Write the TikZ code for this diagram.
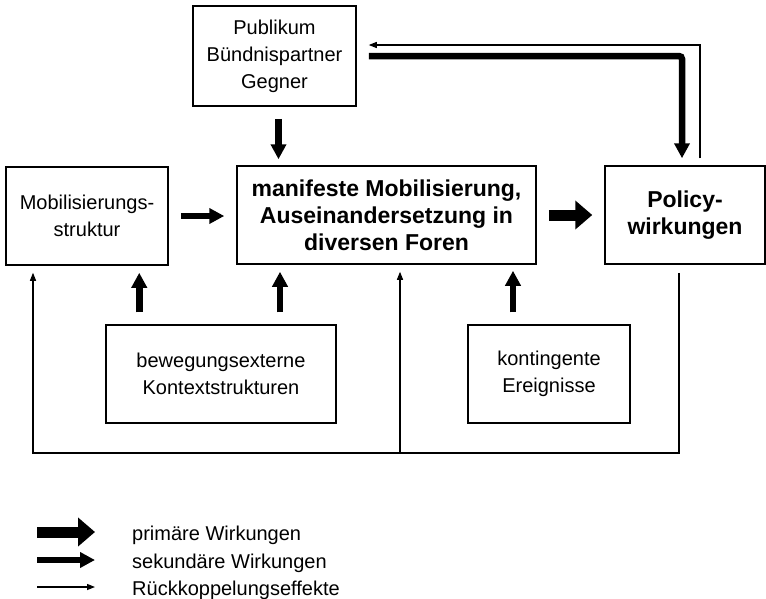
\documentclass[tikz,border=0pt]{standalone}
\usepackage{fontspec}
\setmainfont{Liberation Sans}
\usetikzlibrary{arrows.meta}

\tikzset{
  kasten/.style={draw, line width=1.5pt, minimum width=#1, minimum height=98pt, inner sep=0pt, align=center, font=\fontsize{20}{27}\selectfont},
  fett/.style={font=\fontsize{23}{27}\selectfont\bfseries},
  legende/.style={inner sep=0pt, font=\fontsize{20}{27}\selectfont},
  primaer/.style={line width=11pt, -{Triangle[length=17pt,width=28pt]}},
  sekundaer/.style={line width=6.5pt, -{Triangle[length=15pt,width=15pt]}},
  rueck/.style={line width=1.3pt, -{Triangle[length=8pt,width=6pt]}}
}

\begin{document}
\begin{tikzpicture}[x=1pt,y=-1pt]
\useasboundingbox (0,0) rectangle (766,598);

\node[kasten=163pt, minimum height=100pt] (pub) at (274.5,56) {Publikum\\Bündnispartner\\Gegner};
\node[kasten=162pt] (mob) at (87,216) {Mobilisierungs-\\struktur};
\node[kasten=299pt, fett] (man) at (386.5,215) {manifeste Mobilisierung,\\Auseinandersetzung in\\diversen Foren};
\node[kasten=160pt, fett] (pol) at (685,215) {Policy-\\wirkungen};
\node[kasten=230pt] (bew) at (221,374) {bewegungsexterne\\Kontextstrukturen};
\node[kasten=162pt] (kon) at (549,374) {kontingente\\Ereignisse};

\coordinate (oben) at (682,56);
\coordinate (ruecko) at (700,45);
\coordinate (rl) at (33,453);
\coordinate (rm) at (400,453);
\coordinate (rr) at (679,453);

\draw[sekundaer, shorten <=12pt, shorten >=6pt] ([xshift=4pt]pub.south) -- ([xshift=4pt]pub.south |- man.north);
\draw[sekundaer, shorten <=12pt, shorten >=12pt] (mob.east) -- (mob.east -| man.west);
\draw[primaer, shorten <=12pt, shorten >=12pt] (man.east) -- (pol.west);
\draw[sekundaer, shorten <=12pt, shorten >=7pt] ([xshift=34pt]bew.north west) -- ([xshift=34pt]bew.north west |- mob.south);
\draw[sekundaer, shorten <=12pt, shorten >=7pt] ([xshift=59pt]bew.north) -- ([xshift=59pt]bew.north |- man.south);
\draw[sekundaer, shorten <=12pt, shorten >=6pt] ([xshift=-36pt]kon.north) -- ([xshift=-36pt]kon.north |- man.south);

\draw[sekundaer, rounded corners=3pt, shorten <=12pt, shorten >=7pt] (pub.east) -- (oben) -- (oben |- pol.north);
\draw[rueck, shorten <=7pt, shorten >=12pt] (ruecko |- pol.north) -- (ruecko) -- (ruecko -| pub.east);

\draw[rueck, shorten <=8pt, shorten >=7pt] (rr |- pol.south) -- (rr) -- (rl) -- (rl |- mob.south);
\draw[rueck, shorten >=7pt] (rm) -- (rm |- man.south);

\node[legende, anchor=base west] (t1) at (132,540) {primäre Wirkungen};
\node[legende, anchor=base west] (t2) at (132,568) {sekundäre Wirkungen};
\node[legende, anchor=base west] (t3) at (132,595) {Rückkoppelungseffekte};
\coordinate (l1) at (37,532);
\coordinate (l2) at (37,560);
\coordinate (l3) at (37,587);
\draw[primaer, shorten >=37pt] (l1) -- (l1 -| t1.west);
\draw[sekundaer, shorten >=37pt] (l2) -- (l2 -| t2.west);
\draw[rueck, shorten >=37pt] (l3) -- (l3 -| t3.west);
\end{tikzpicture}
\end{document}
